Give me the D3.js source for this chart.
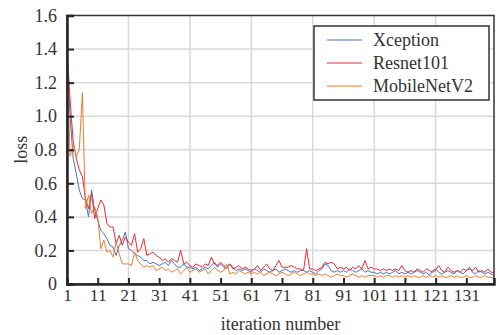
<!DOCTYPE html>
<html>
<head>
<meta charset="utf-8">
<script src="https://cdn.jsdelivr.net/npm/d3@7"></script>
<style>
  body { margin: 0; background: #fff; }
  text { font-family: "Liberation Serif", "Times New Roman", serif; fill: #333; }
</style>
</head>
<body>
<svg id="chart" width="497" height="335"></svg>
<script>
const svg = d3.select("#chart");
const width = +svg.attr("width");
const height = +svg.attr("height");

const xception = [
  1.38, 1.00, 0.75, 0.66, 0.56, 0.51, 0.50, 0.40, 0.56, 0.44,
  0.38, 0.32, 0.30, 0.27, 0.23, 0.22, 0.17, 0.23, 0.26, 0.31,
  0.21, 0.20, 0.18, 0.17, 0.16, 0.14, 0.14, 0.12, 0.13, 0.12,
  0.11, 0.12, 0.13, 0.11, 0.14, 0.12, 0.10, 0.10, 0.12, 0.10,
  0.10, 0.09, 0.10, 0.08, 0.09, 0.10, 0.09, 0.11, 0.13, 0.10,
  0.12, 0.10, 0.09, 0.12, 0.10, 0.08, 0.09, 0.08, 0.09, 0.08,
  0.07, 0.09, 0.08, 0.07, 0.09, 0.08, 0.07, 0.08, 0.09, 0.07,
  0.08, 0.09, 0.08, 0.07, 0.08, 0.07, 0.08, 0.08, 0.07, 0.08,
  0.07, 0.06, 0.08, 0.09, 0.12, 0.11, 0.08, 0.07, 0.08, 0.07,
  0.08, 0.07, 0.09, 0.08, 0.07, 0.08, 0.09, 0.07, 0.08, 0.07,
  0.07, 0.06, 0.07, 0.06, 0.07, 0.06, 0.07, 0.08, 0.06, 0.07,
  0.06, 0.07, 0.06, 0.07, 0.08, 0.07, 0.06, 0.07, 0.05, 0.08,
  0.09, 0.07, 0.06, 0.07, 0.08, 0.07, 0.06, 0.08, 0.07, 0.06,
  0.08, 0.10, 0.07, 0.06, 0.08, 0.07, 0.06, 0.07, 0.06, 0.05
];

const resnet101 = [
  1.40, 1.10, 0.85, 0.75, 0.68, 0.64, 0.51, 0.45, 0.54, 0.39,
  0.45, 0.50, 0.47, 0.36, 0.34, 0.34, 0.24, 0.29, 0.23, 0.28,
  0.25, 0.23, 0.30, 0.19, 0.21, 0.27, 0.17, 0.18, 0.19, 0.17,
  0.16, 0.14, 0.15, 0.13, 0.15, 0.14, 0.13, 0.20, 0.12, 0.13,
  0.11, 0.10, 0.12, 0.11, 0.10, 0.12, 0.11, 0.16, 0.12, 0.11,
  0.13, 0.11, 0.10, 0.12, 0.09, 0.10, 0.11, 0.09, 0.10, 0.09,
  0.08, 0.09, 0.11, 0.08, 0.10, 0.12, 0.09, 0.08, 0.11, 0.14,
  0.10, 0.10, 0.10, 0.11, 0.10, 0.09, 0.09, 0.08, 0.21, 0.09,
  0.09, 0.08, 0.09, 0.10, 0.13, 0.12, 0.13, 0.12, 0.09, 0.10,
  0.09, 0.10, 0.08, 0.10, 0.09, 0.11, 0.09, 0.14, 0.09, 0.10,
  0.09, 0.09, 0.08, 0.09, 0.08, 0.09, 0.08, 0.09, 0.08, 0.11,
  0.08, 0.07, 0.08, 0.07, 0.09, 0.08, 0.07, 0.09, 0.08, 0.07,
  0.08, 0.11, 0.08, 0.07, 0.10, 0.08, 0.07, 0.08, 0.07, 0.09,
  0.08, 0.09, 0.08, 0.10, 0.07, 0.08, 0.07, 0.09, 0.07, 0.07
];

const mobilenetv2 = [
  1.35, 0.76, 0.83, 0.76, 0.80, 1.14, 0.45, 0.53, 0.42, 0.46,
  0.40, 0.21, 0.26, 0.19, 0.20, 0.16, 0.25, 0.18, 0.12, 0.12,
  0.12, 0.11, 0.19, 0.14, 0.12, 0.10, 0.11, 0.10, 0.11, 0.08,
  0.09, 0.10, 0.08, 0.09, 0.07, 0.08, 0.09, 0.06, 0.08, 0.10,
  0.07, 0.08, 0.09, 0.07, 0.08, 0.09, 0.06, 0.08, 0.10, 0.08,
  0.07, 0.08, 0.12, 0.06, 0.07, 0.06, 0.08, 0.07, 0.06, 0.07,
  0.06, 0.07, 0.06, 0.07, 0.05, 0.06, 0.07, 0.06, 0.05, 0.06,
  0.07, 0.06, 0.05, 0.06, 0.07, 0.06, 0.05, 0.06, 0.07, 0.06,
  0.06, 0.05, 0.06, 0.05, 0.06, 0.05, 0.04, 0.05, 0.06, 0.05,
  0.05, 0.04, 0.05, 0.06, 0.05, 0.04, 0.05, 0.04, 0.05, 0.05,
  0.05, 0.04, 0.05, 0.04, 0.05, 0.05, 0.04, 0.05, 0.04, 0.05,
  0.04, 0.05, 0.04, 0.05, 0.04, 0.04, 0.05, 0.04, 0.05, 0.04,
  0.05, 0.04, 0.05, 0.04, 0.04, 0.05, 0.04, 0.05, 0.04, 0.04,
  0.05, 0.04, 0.04, 0.05, 0.04, 0.04, 0.05, 0.04, 0.04, 0.03
];

const seriesNames = ["Xception", "Resnet101", "MobileNetV2"];
const seriesColors = ["#4472c4", "#f0282d", "#ed7d31"];
const xTicks = [1, 11, 21, 31, 41, 51, 61, 71, 81, 91, 101, 111, 121, 131];
const xGrid = [21, 41, 61, 81, 101, 121];
const yTicks = [0, 0.2, 0.4, 0.6, 0.8, 1.0, 1.2, 1.4, 1.6];

const margin = { top: 15.5, right: 3, bottom: 51, left: 67 };
const x = d3.scaleLinear().domain([1, 140]).range([margin.left, width - margin.right]);
const y = d3.scaleLinear().domain([0, 1.6]).range([height - margin.bottom, margin.top]);

// grid
svg.append("g")
  .selectAll("line")
  .data(yTicks.slice(1, -1))
  .enter()
  .append("line")
  .attr("x1", x(1)).attr("x2", x(140))
  .attr("y1", d => y(d)).attr("y2", d => y(d))
  .attr("stroke", "#d9d9d9")
  .attr("stroke-width", 1.5);

svg.append("g")
  .selectAll("line")
  .data(xGrid)
  .enter()
  .append("line")
  .attr("x1", d => x(d)).attr("x2", d => x(d))
  .attr("y1", y(0)).attr("y2", y(1.6))
  .attr("stroke", "#d9d9d9")
  .attr("stroke-width", 1.5);

// lines
const line = d3.line()
  .x((d, i) => x(i + 1))
  .y(d => y(d));

[xception, resnet101, mobilenetv2].forEach((data, k) => {
  svg.append("path")
    .datum(data)
    .attr("d", line)
    .attr("fill", "none")
    .attr("stroke", seriesColors[k])
    .attr("stroke-width", 1)
    .attr("stroke-linejoin", "round");
});

// frame
svg.append("rect")
  .attr("x", x(1)).attr("y", y(1.6))
  .attr("width", x(140) - x(1))
  .attr("height", y(0) - y(1.6))
  .attr("fill", "none")
  .attr("stroke", "#333")
  .attr("stroke-width", 1.5);

// axes
const xAxis = d3.axisBottom(x).tickValues(xTicks).tickSize(-6).tickPadding(5).tickFormat(d3.format("d"));
const gx = svg.append("g")
  .attr("transform", `translate(0,${y(0)})`)
  .call(xAxis);
gx.select(".domain").attr("stroke", "#262626").attr("stroke-width", 2.5);
gx.selectAll(".tick line").attr("stroke", "#262626").attr("stroke-width", 2);
gx.selectAll(".tick text").attr("font-size", 17.5).attr("font-family", "Liberation Serif").attr("fill", "#333");

const yAxis = d3.axisLeft(y).tickValues(yTicks).tickSize(-7).tickPadding(10)
  .tickFormat(d => d === 0 ? "0" : d3.format(".1f")(d));
const gy = svg.append("g")
  .attr("transform", `translate(${x(1)},0)`)
  .call(yAxis);
gy.select(".domain").attr("stroke", "#262626").attr("stroke-width", 2.5);
gy.selectAll(".tick line").attr("stroke", "#262626").attr("stroke-width", 2);
gy.selectAll(".tick text").attr("font-size", 18).attr("font-family", "Liberation Serif").attr("fill", "#333");

// axis titles
svg.append("text")
  .attr("x", (x(1) + x(140)) / 2)
  .attr("y", 330)
  .attr("text-anchor", "middle")
  .attr("font-size", 18)
  .text("iteration number");

svg.append("text")
  .attr("transform", `translate(27,${(y(0) + y(1.6)) / 2}) rotate(-90)`)
  .attr("text-anchor", "middle")
  .attr("font-size", 18)
  .text("loss");

// legend
const legend = svg.append("g").attr("transform", "translate(314,26)");
legend.append("rect")
  .attr("width", 175).attr("height", 74)
  .attr("fill", "#fff")
  .attr("stroke", "#333")
  .attr("stroke-width", 1.5);

seriesNames.forEach((name, i) => {
  legend.append("line")
    .attr("x1", 13).attr("x2", 48)
    .attr("y1", 14 + i * 23).attr("y2", 14 + i * 23)
    .attr("stroke", seriesColors[i])
    .attr("stroke-width", 1.2);
  legend.append("text")
    .attr("x", 59)
    .attr("y", 20 + i * 23)
    .attr("font-size", 18)
    .text(name);
});
</script>
</body>
</html>
